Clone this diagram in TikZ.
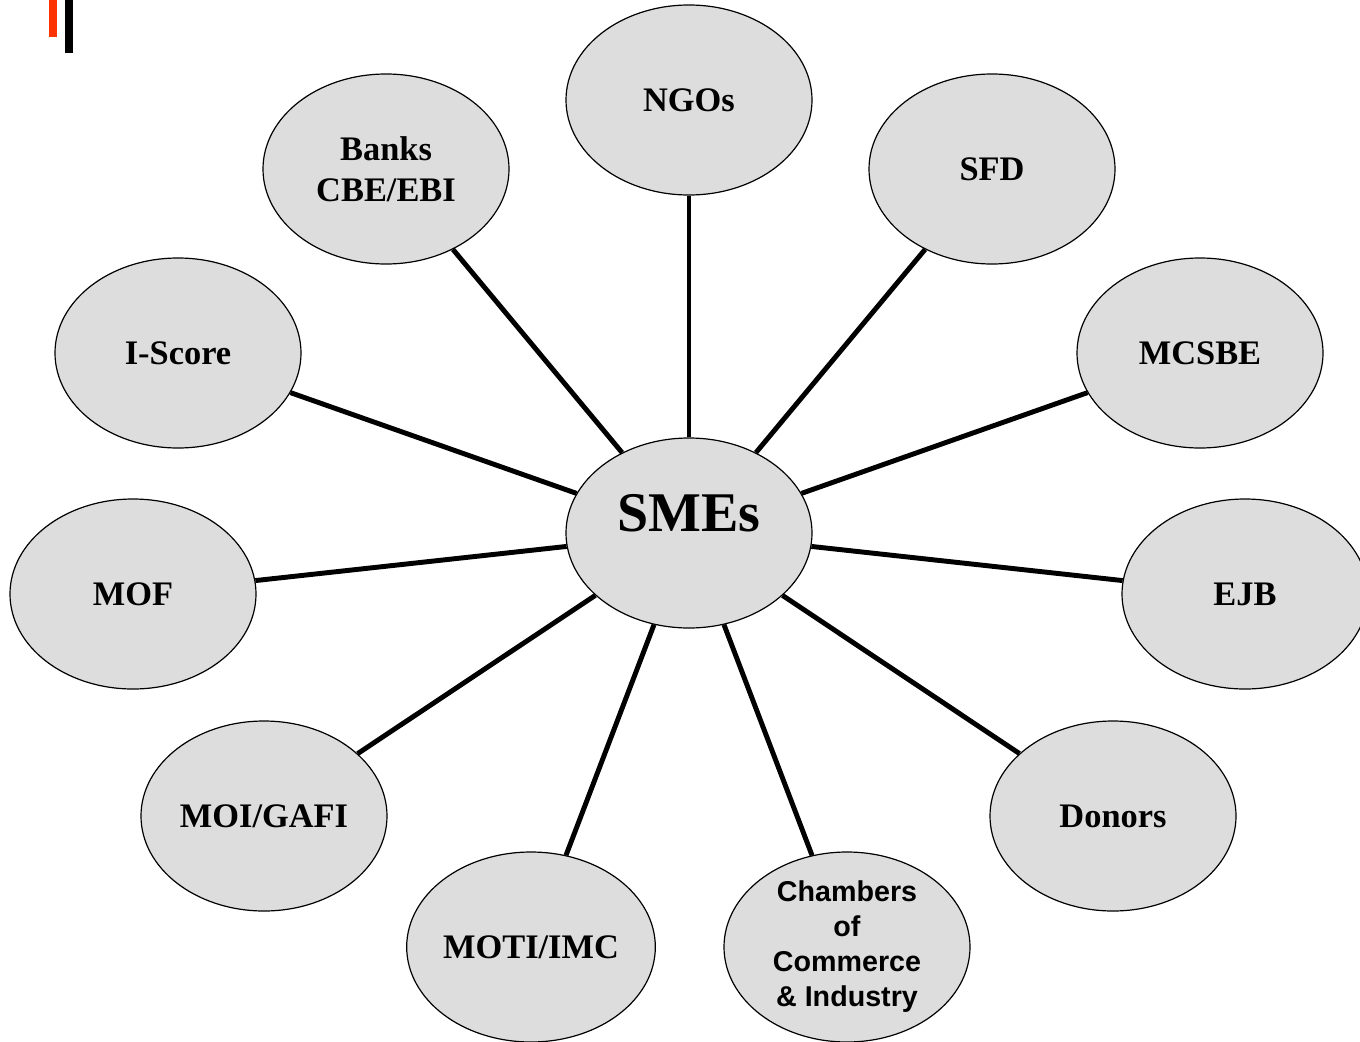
\documentclass[tikz,border=0pt]{standalone}
\usepackage{fontspec}
\setmainfont{Liberation Serif}
\setsansfont{Liberation Sans}
\usetikzlibrary{shapes.geometric}
\definecolor{bubblegray}{HTML}{DDDDDD}
\definecolor{barred}{HTML}{FF3300}
\tikzset{
	actor/.style={ellipse, draw, line width=0.9pt, fill=bubblegray, minimum width=184.5pt, minimum height=142.5pt, inner sep=0pt, align=center, font=\fontsize{25.8}{30.75}\selectfont\bfseries},
	spoke/.style={line width=3.7pt},
}
\begin{document}
\begin{tikzpicture}[x=0.75pt, y=-0.75pt]
			\useasboundingbox (0,0) rectangle (1360,1042);
			%corner bars
			\fill[barred] (49,0) rectangle (57,37);
			\fill[black] (65,0) rectangle (73,53);
			
			%centre
			\node[actor, font=\fontsize{42}{48}\selectfont\bfseries, text height=20pt, text depth=23pt] (smes) at (689,533){SMEs};
			
			%partners
			\node[actor] (ngos) at (689,100){NGOs};
			\node[actor] (sfd) at (992,169){SFD};
			\node[actor] (mcsbe) at (1200,353){MCSBE};
			\node[actor] (ejb) at (1245,594){EJB};
			\node[actor] (donors) at (1113,816){Donors};
			\node[actor, font=\fontsize{21.5}{26.25}\selectfont\sffamily\bfseries] (chambers) at (847,947){Chambers\\of\\Commerce\\\& Industry};
			\node[actor] (moti) at (531,947){MOTI/IMC};
			\node[actor] (moi) at (264,816){MOI/GAFI};
			\node[actor] (mof) at (133,594){MOF};
			\node[actor] (iscore) at (178,353){I-Score};
			\node[actor] (banks) at (386,169){Banks\\CBE/EBI};
			
			\foreach \n in {ngos, sfd, mcsbe, ejb, donors, chambers, moti, moi, mof, iscore, banks}{
				\draw[spoke] (smes) -- (\n);
			}
		\end{tikzpicture}
\end{document}
